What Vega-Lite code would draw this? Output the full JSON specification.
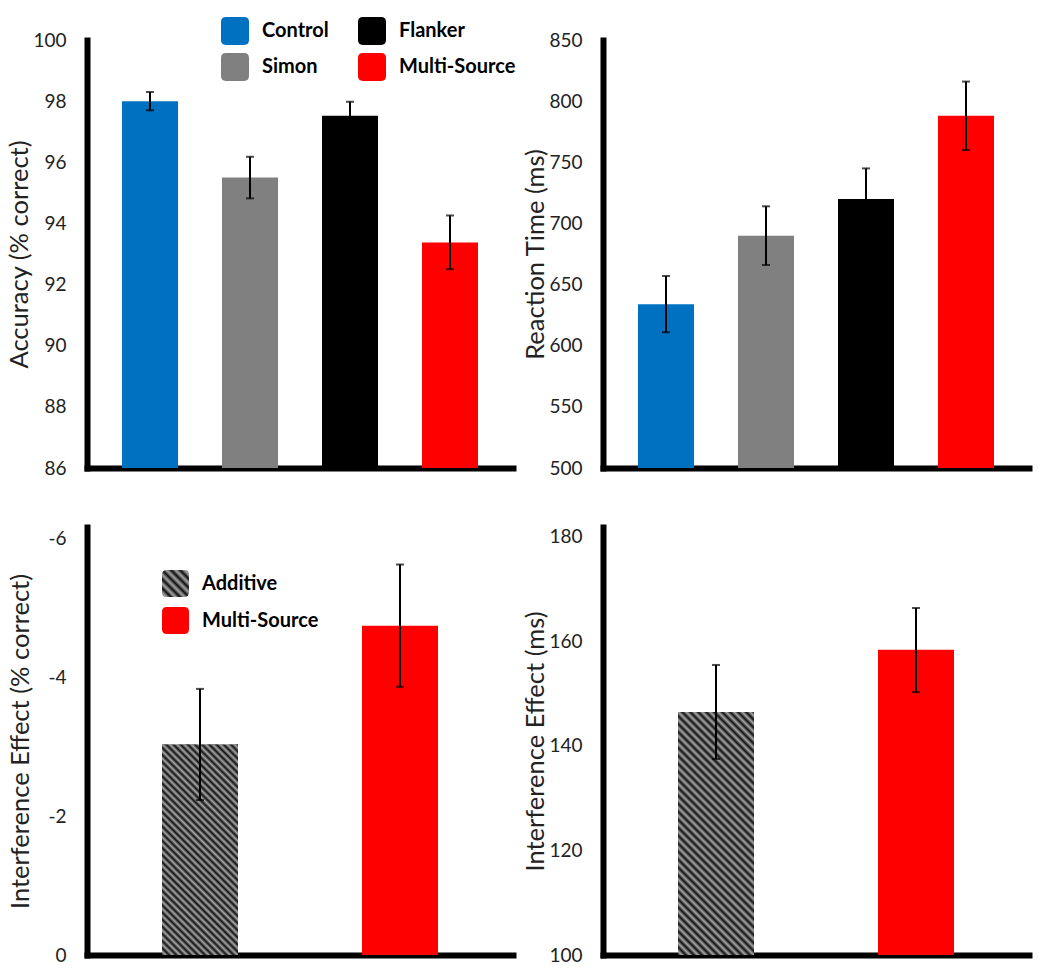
{
  "$schema": "https://vega.github.io/schema/vega-lite/v6.json",
  "padding": {"left": 7, "top": 17, "right": 5, "bottom": 5},
  "bounds": "flush",
  "columns": 2,
  "spacing": {"row": 59, "column": 90},
  "resolve": {"scale": {"color": "independent", "x": "independent", "y": "independent"}, "legend": {"color": "independent"}},
  "config": {
    "font": "Lato",
    "view": {"stroke": null},
    "axis": {"grid": false, "ticks": false, "tickSize": 0, "domainColor": "#000000", "domainWidth": 6, "domainCap": "square", "labelFont": "Lato", "labelFontSize": 19, "labelColor": "#222222", "titleFont": "Lato", "titleFontWeight": "normal", "titleFontSize": 25.5, "titleColor": "#222222"},
    "legend": {"padding": 0, "labelFont": "Lato", "labelFontWeight": "bold", "labelFontSize": 20, "labelColor": "#000000", "symbolStrokeWidth": 0, "labelOffset": 13, "symbolType": "M-1,-0.65 Q-1,-1 -0.65,-1 L0.65,-1 Q1,-1 1,-0.65 L1,0.65 Q1,1 0.65,1 L-0.65,1 Q-1,1 -1,0.65 Z"}
  },
  "datasets": {
    "acc": [
      {"cond": "Control", "v": 98.0, "lo": 97.7, "hi": 98.3},
      {"cond": "Simon", "v": 95.5, "lo": 94.82, "hi": 96.18},
      {"cond": "Flanker", "v": 97.52, "lo": 97.06, "hi": 97.98},
      {"cond": "Multi-Source", "v": 93.38, "lo": 92.5, "hi": 94.26}
    ],
    "rt": [
      {"cond": "Control", "v": 634, "lo": 611, "hi": 657},
      {"cond": "Simon", "v": 690, "lo": 666, "hi": 714},
      {"cond": "Flanker", "v": 720, "lo": 692, "hi": 745},
      {"cond": "Multi-Source", "v": 788, "lo": 760, "hi": 816}
    ],
    "ieacc": [
      {"grp": "Additive", "v": -3.03, "lo": -2.23, "hi": -3.83},
      {"grp": "Multi-Source", "v": -4.74, "lo": -3.86, "hi": -5.62}
    ],
    "iert": [
      {"grp": "Additive", "v": 146.5, "lo": 137.5, "hi": 155.5},
      {"grp": "Multi-Source", "v": 158.4, "lo": 150.3, "hi": 166.4}
    ]
  },
  "concat": [
    {
      "width": 426, "height": 428,
      "data": {"name": "acc"},
      "layer": [
        {
          "mark": {"type": "bar"},
          "encoding": {
            "x": {"field": "cond", "type": "nominal", "sort": ["Control", "Simon", "Flanker", "Multi-Source"], "scale": {"paddingInner": 0.44, "paddingOuter": 0.35}, "axis": {"labels": false, "title": null}},
            "y": {"field": "v", "type": "quantitative", "scale": {"domain": [86, 100], "zero": false, "nice": false}, "title": "Accuracy (% correct)", "axis": {"values": [86, 88, 90, 92, 94, 96, 98, 100], "labelPadding": 21, "titlePadding": 0}},
            "y2": {"datum": 86},
            "color": {"field": "cond", "type": "nominal", "scale": {"domain": ["Control", "Simon", "Flanker", "Multi-Source"], "range": ["#0070c0", "#808080", "#000000", "#ff0000"]}, "legend": {"orient": "none", "legendX": 134, "legendY": -23, "columns": 2, "title": null, "symbolSize": 784, "rowPadding": 8, "columnPadding": 29}}
          }
        },
        {
          "mark": {"type": "errorbar", "color": "#000000", "rule": {"strokeWidth": 2, "color": "#000000"}, "ticks": {"size": 8, "thickness": 2, "color": "#000000"}},
          "encoding": {
            "x": {"field": "cond", "type": "nominal", "sort": ["Control", "Simon", "Flanker", "Multi-Source"]},
            "y": {"field": "lo", "type": "quantitative", "scale": {"domain": [86, 100], "zero": false, "nice": false}, "title": "Accuracy (% correct)"},
            "y2": {"field": "hi"}
          }
        }
      ]
    },
    {
      "width": 426, "height": 428,
      "data": {"name": "rt"},
      "layer": [
        {
          "mark": {"type": "bar"},
          "encoding": {
            "x": {"field": "cond", "type": "nominal", "sort": ["Control", "Simon", "Flanker", "Multi-Source"], "scale": {"paddingInner": 0.44, "paddingOuter": 0.35}, "axis": {"labels": false, "title": null}},
            "y": {"field": "v", "type": "quantitative", "scale": {"domain": [500, 850], "zero": false, "nice": false}, "title": "Reaction Time (ms)", "axis": {"values": [500, 550, 600, 650, 700, 750, 800, 850], "labelPadding": 21, "titlePadding": 0}},
            "y2": {"datum": 500},
            "color": {"field": "cond", "type": "nominal", "scale": {"domain": ["Control", "Simon", "Flanker", "Multi-Source"], "range": ["#0070c0", "#808080", "#000000", "#ff0000"]}, "legend": null}
          }
        },
        {
          "mark": {"type": "errorbar", "color": "#000000", "rule": {"strokeWidth": 2, "color": "#000000"}, "ticks": {"size": 8, "thickness": 2, "color": "#000000"}},
          "encoding": {
            "x": {"field": "cond", "type": "nominal", "sort": ["Control", "Simon", "Flanker", "Multi-Source"]},
            "y": {"field": "lo", "type": "quantitative", "scale": {"domain": [500, 850], "zero": false, "nice": false}, "title": "Reaction Time (ms)"},
            "y2": {"field": "hi"}
          }
        }
      ]
    },
    {
      "width": 426, "height": 428,
      "data": {"name": "ieacc"},
      "layer": [
        {
          "mark": {"type": "bar"},
          "encoding": {
            "x": {"field": "grp", "type": "nominal", "sort": ["Additive", "Multi-Source"], "scale": {"paddingInner": 0.62, "paddingOuter": 0.375}, "axis": {"labels": false, "title": null}},
            "y": {"field": "v", "type": "quantitative", "scale": {"domain": [-6.16, 0], "reverse": true, "nice": false}, "title": "Interference Effect (% correct)", "axis": {"values": [-6, -4, -2, 0], "labelExpr": "'' + datum.value", "labelPadding": 21, "titlePadding": 14}},
            "color": {"field": "grp", "type": "nominal", "scale": {"domain": ["Additive", "Multi-Source"], "range": [{"expr": "{gradient:'linear',x1:0,y1:1,x2:1,y2:0,stops:[{offset:0,color:'#111111'},{offset:0.0833,color:'#a6a6a6'},{offset:0.1667,color:'#111111'},{offset:0.25,color:'#a6a6a6'},{offset:0.3333,color:'#111111'},{offset:0.4167,color:'#a6a6a6'},{offset:0.5,color:'#111111'},{offset:0.5833,color:'#a6a6a6'},{offset:0.6667,color:'#111111'},{offset:0.75,color:'#a6a6a6'},{offset:0.8333,color:'#111111'},{offset:0.9167,color:'#a6a6a6'},{offset:1,color:'#111111'}]}"}, "#ff0000"]}, "legend": {"orient": "none", "legendX": 75, "legendY": 43, "columns": 1, "title": null, "symbolSize": 729, "rowPadding": 10}}
          }
        },
        {
          "transform": [{"filter": "datum.grp === 'Additive'"}],
          "mark": {"type": "bar", "fill": {"gradient": "linear", "x1": 0, "y1": 1, "x2": 0.4335, "y2": -0.204, "stops": [
            {"offset": 0, "color": "#111111"}, {"offset": 0.0125, "color": "#a6a6a6"}, {"offset": 0.025, "color": "#111111"}, {"offset": 0.0375, "color": "#a6a6a6"}, {"offset": 0.05, "color": "#111111"}, {"offset": 0.0625, "color": "#a6a6a6"}, {"offset": 0.075, "color": "#111111"}, {"offset": 0.0875, "color": "#a6a6a6"}, {"offset": 0.1, "color": "#111111"}, {"offset": 0.1125, "color": "#a6a6a6"}, {"offset": 0.125, "color": "#111111"}, {"offset": 0.1375, "color": "#a6a6a6"}, {"offset": 0.15, "color": "#111111"}, {"offset": 0.1625, "color": "#a6a6a6"}, {"offset": 0.175, "color": "#111111"}, {"offset": 0.1875, "color": "#a6a6a6"}, {"offset": 0.2, "color": "#111111"}, {"offset": 0.2125, "color": "#a6a6a6"}, {"offset": 0.225, "color": "#111111"}, {"offset": 0.2375, "color": "#a6a6a6"}, {"offset": 0.25, "color": "#111111"}, {"offset": 0.2625, "color": "#a6a6a6"}, {"offset": 0.275, "color": "#111111"}, {"offset": 0.2875, "color": "#a6a6a6"}, {"offset": 0.3, "color": "#111111"}, {"offset": 0.3125, "color": "#a6a6a6"}, {"offset": 0.325, "color": "#111111"}, {"offset": 0.3375, "color": "#a6a6a6"}, {"offset": 0.35, "color": "#111111"}, {"offset": 0.3625, "color": "#a6a6a6"}, {"offset": 0.375, "color": "#111111"}, {"offset": 0.3875, "color": "#a6a6a6"}, {"offset": 0.4, "color": "#111111"}, {"offset": 0.4125, "color": "#a6a6a6"}, {"offset": 0.425, "color": "#111111"}, {"offset": 0.4375, "color": "#a6a6a6"}, {"offset": 0.45, "color": "#111111"}, {"offset": 0.4625, "color": "#a6a6a6"}, {"offset": 0.475, "color": "#111111"}, {"offset": 0.4875, "color": "#a6a6a6"}, {"offset": 0.5, "color": "#111111"}, {"offset": 0.5125, "color": "#a6a6a6"}, {"offset": 0.525, "color": "#111111"}, {"offset": 0.5375, "color": "#a6a6a6"}, {"offset": 0.55, "color": "#111111"}, {"offset": 0.5625, "color": "#a6a6a6"}, {"offset": 0.575, "color": "#111111"}, {"offset": 0.5875, "color": "#a6a6a6"}, {"offset": 0.6, "color": "#111111"}, {"offset": 0.6125, "color": "#a6a6a6"}, {"offset": 0.625, "color": "#111111"}, {"offset": 0.6375, "color": "#a6a6a6"}, {"offset": 0.65, "color": "#111111"}, {"offset": 0.6625, "color": "#a6a6a6"}, {"offset": 0.675, "color": "#111111"}, {"offset": 0.6875, "color": "#a6a6a6"}, {"offset": 0.7, "color": "#111111"}, {"offset": 0.7125, "color": "#a6a6a6"}, {"offset": 0.725, "color": "#111111"}, {"offset": 0.7375, "color": "#a6a6a6"}, {"offset": 0.75, "color": "#111111"}, {"offset": 0.7625, "color": "#a6a6a6"}, {"offset": 0.775, "color": "#111111"}, {"offset": 0.7875, "color": "#a6a6a6"}, {"offset": 0.8, "color": "#111111"}, {"offset": 0.8125, "color": "#a6a6a6"}, {"offset": 0.825, "color": "#111111"}, {"offset": 0.8375, "color": "#a6a6a6"}, {"offset": 0.85, "color": "#111111"}, {"offset": 0.8625, "color": "#a6a6a6"}, {"offset": 0.875, "color": "#111111"}, {"offset": 0.8875, "color": "#a6a6a6"}, {"offset": 0.9, "color": "#111111"}, {"offset": 0.9125, "color": "#a6a6a6"}, {"offset": 0.925, "color": "#111111"}, {"offset": 0.9375, "color": "#a6a6a6"}, {"offset": 0.95, "color": "#111111"}, {"offset": 0.9625, "color": "#a6a6a6"}, {"offset": 0.975, "color": "#111111"}, {"offset": 0.9875, "color": "#a6a6a6"}, {"offset": 1, "color": "#111111"}
          ]}},
          "encoding": {
            "x": {"field": "grp", "type": "nominal", "sort": ["Additive", "Multi-Source"]},
            "y": {"field": "v", "type": "quantitative", "scale": {"domain": [-6.16, 0], "reverse": true, "nice": false}, "title": "Interference Effect (% correct)"}
          }
        },
        {
          "mark": {"type": "errorbar", "color": "#000000", "rule": {"strokeWidth": 2, "color": "#000000"}, "ticks": {"size": 8, "thickness": 2, "color": "#000000"}},
          "encoding": {
            "x": {"field": "grp", "type": "nominal", "sort": ["Additive", "Multi-Source"]},
            "y": {"field": "lo", "type": "quantitative", "scale": {"domain": [-6.16, 0], "reverse": true, "nice": false}, "title": "Interference Effect (% correct)"},
            "y2": {"field": "hi"}
          }
        }
      ]
    },
    {
      "width": 426, "height": 428,
      "data": {"name": "iert"},
      "layer": [
        {
          "mark": {"type": "bar"},
          "encoding": {
            "x": {"field": "grp", "type": "nominal", "sort": ["Additive", "Multi-Source"], "scale": {"paddingInner": 0.62, "paddingOuter": 0.375}, "axis": {"labels": false, "title": null}},
            "y": {"field": "v", "type": "quantitative", "scale": {"domain": [100, 181.9], "zero": false, "nice": false}, "title": "Interference Effect (ms)", "axis": {"values": [100, 120, 140, 160, 180], "labelPadding": 21, "titlePadding": 0}},
            "y2": {"datum": 100},
            "color": {"field": "grp", "type": "nominal", "scale": {"domain": ["Additive", "Multi-Source"], "range": ["#333333", "#ff0000"]}, "legend": null}
          }
        },
        {
          "transform": [{"filter": "datum.grp === 'Additive'"}],
          "mark": {"type": "bar", "fill": {"gradient": "linear", "x1": 0, "y1": 1, "x2": 0.374, "y2": -0.196, "stops": [
            {"offset": 0, "color": "#111111"}, {"offset": 0.0125, "color": "#a6a6a6"}, {"offset": 0.025, "color": "#111111"}, {"offset": 0.0375, "color": "#a6a6a6"}, {"offset": 0.05, "color": "#111111"}, {"offset": 0.0625, "color": "#a6a6a6"}, {"offset": 0.075, "color": "#111111"}, {"offset": 0.0875, "color": "#a6a6a6"}, {"offset": 0.1, "color": "#111111"}, {"offset": 0.1125, "color": "#a6a6a6"}, {"offset": 0.125, "color": "#111111"}, {"offset": 0.1375, "color": "#a6a6a6"}, {"offset": 0.15, "color": "#111111"}, {"offset": 0.1625, "color": "#a6a6a6"}, {"offset": 0.175, "color": "#111111"}, {"offset": 0.1875, "color": "#a6a6a6"}, {"offset": 0.2, "color": "#111111"}, {"offset": 0.2125, "color": "#a6a6a6"}, {"offset": 0.225, "color": "#111111"}, {"offset": 0.2375, "color": "#a6a6a6"}, {"offset": 0.25, "color": "#111111"}, {"offset": 0.2625, "color": "#a6a6a6"}, {"offset": 0.275, "color": "#111111"}, {"offset": 0.2875, "color": "#a6a6a6"}, {"offset": 0.3, "color": "#111111"}, {"offset": 0.3125, "color": "#a6a6a6"}, {"offset": 0.325, "color": "#111111"}, {"offset": 0.3375, "color": "#a6a6a6"}, {"offset": 0.35, "color": "#111111"}, {"offset": 0.3625, "color": "#a6a6a6"}, {"offset": 0.375, "color": "#111111"}, {"offset": 0.3875, "color": "#a6a6a6"}, {"offset": 0.4, "color": "#111111"}, {"offset": 0.4125, "color": "#a6a6a6"}, {"offset": 0.425, "color": "#111111"}, {"offset": 0.4375, "color": "#a6a6a6"}, {"offset": 0.45, "color": "#111111"}, {"offset": 0.4625, "color": "#a6a6a6"}, {"offset": 0.475, "color": "#111111"}, {"offset": 0.4875, "color": "#a6a6a6"}, {"offset": 0.5, "color": "#111111"}, {"offset": 0.5125, "color": "#a6a6a6"}, {"offset": 0.525, "color": "#111111"}, {"offset": 0.5375, "color": "#a6a6a6"}, {"offset": 0.55, "color": "#111111"}, {"offset": 0.5625, "color": "#a6a6a6"}, {"offset": 0.575, "color": "#111111"}, {"offset": 0.5875, "color": "#a6a6a6"}, {"offset": 0.6, "color": "#111111"}, {"offset": 0.6125, "color": "#a6a6a6"}, {"offset": 0.625, "color": "#111111"}, {"offset": 0.6375, "color": "#a6a6a6"}, {"offset": 0.65, "color": "#111111"}, {"offset": 0.6625, "color": "#a6a6a6"}, {"offset": 0.675, "color": "#111111"}, {"offset": 0.6875, "color": "#a6a6a6"}, {"offset": 0.7, "color": "#111111"}, {"offset": 0.7125, "color": "#a6a6a6"}, {"offset": 0.725, "color": "#111111"}, {"offset": 0.7375, "color": "#a6a6a6"}, {"offset": 0.75, "color": "#111111"}, {"offset": 0.7625, "color": "#a6a6a6"}, {"offset": 0.775, "color": "#111111"}, {"offset": 0.7875, "color": "#a6a6a6"}, {"offset": 0.8, "color": "#111111"}, {"offset": 0.8125, "color": "#a6a6a6"}, {"offset": 0.825, "color": "#111111"}, {"offset": 0.8375, "color": "#a6a6a6"}, {"offset": 0.85, "color": "#111111"}, {"offset": 0.8625, "color": "#a6a6a6"}, {"offset": 0.875, "color": "#111111"}, {"offset": 0.8875, "color": "#a6a6a6"}, {"offset": 0.9, "color": "#111111"}, {"offset": 0.9125, "color": "#a6a6a6"}, {"offset": 0.925, "color": "#111111"}, {"offset": 0.9375, "color": "#a6a6a6"}, {"offset": 0.95, "color": "#111111"}, {"offset": 0.9625, "color": "#a6a6a6"}, {"offset": 0.975, "color": "#111111"}, {"offset": 0.9875, "color": "#a6a6a6"}, {"offset": 1, "color": "#111111"}
          ]}},
          "encoding": {
            "x": {"field": "grp", "type": "nominal", "sort": ["Additive", "Multi-Source"]},
            "y": {"field": "v", "type": "quantitative", "scale": {"domain": [100, 181.9], "zero": false, "nice": false}, "title": "Interference Effect (ms)"},
            "y2": {"datum": 100}
          }
        },
        {
          "mark": {"type": "errorbar", "color": "#000000", "rule": {"strokeWidth": 2, "color": "#000000"}, "ticks": {"size": 8, "thickness": 2, "color": "#000000"}},
          "encoding": {
            "x": {"field": "grp", "type": "nominal", "sort": ["Additive", "Multi-Source"]},
            "y": {"field": "lo", "type": "quantitative", "scale": {"domain": [100, 181.9], "zero": false, "nice": false}, "title": "Interference Effect (ms)"},
            "y2": {"field": "hi"}
          }
        }
      ]
    }
  ]
}
